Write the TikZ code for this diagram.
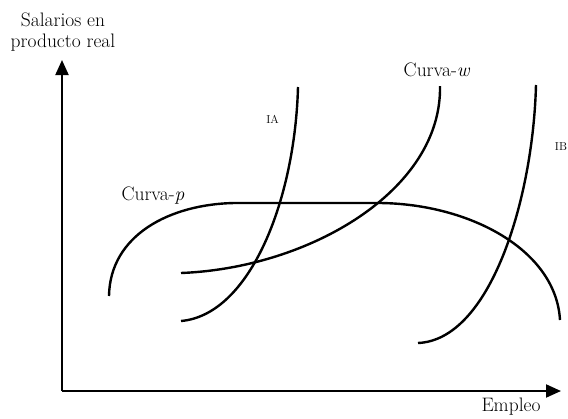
\documentclass[tikz,border=0pt]{standalone}
\usetikzlibrary{arrows.meta}
\begin{document}
\begin{tikzpicture}[x=1pt,y=-1pt,
  axis/.style={line width=2pt,-{Triangle[length=15pt,width=13pt]}},
  curve/.style={line width=2.4pt},
  lbl/.style={inner sep=0pt,font=\fontsize{19.5}{21}\selectfont},
  small/.style={inner sep=0pt,font=\fontsize{11.5}{12}\selectfont}]
\useasboundingbox (0,0) rectangle (568,418);
% axes
\coordinate (O) at (62,391);
\coordinate (Ytop) at (62,60);
\coordinate (Xend) at (561,391);
\draw[axis] (O) -- (Ytop);
\draw[axis] (O) -- (Xend);
% labels
\node[lbl,align=center] (ylab) at (63,32) {Salarios en\\producto real};
\node[lbl] (xlab) at (511,407) {Empleo};
\node[lbl] (wlab) at (437,70) {Curva-\textit{w}};
\node[lbl] (plab) at (153,196) {Curva-\textit{p}};
\node[small] (ialab) at (272.5,119) {IA};
\node[small] (iblab) at (561,147) {IB};
% curve end points
\coordinate (p1) at (109,296);
\coordinate (p2) at (235,203);
\coordinate (p3) at (380,203);
\coordinate (p4) at (560,320);
\coordinate (w1) at (181,273);
\coordinate (w2) at (440,86);
\coordinate (a1) at (181,321);
\coordinate (a2) at (298,87);
\coordinate (b1) at (418,343);
\coordinate (b2) at (536,85);
% Curva-p
\draw[curve] (p1) .. controls (110,235) and (170,204) .. (p2) -- (p3)
  .. controls (470,204) and (556,250) .. (p4);
% Curva-w
\draw[curve] (w1) .. controls (310,268) and (442,190) .. (w2);
% IA
\draw[curve] (a1) .. controls (250,315) and (295,200) .. (a2);
% IB
\draw[curve] (b1) .. controls (490,340) and (533,200) .. (b2);
\end{tikzpicture}
\end{document}
